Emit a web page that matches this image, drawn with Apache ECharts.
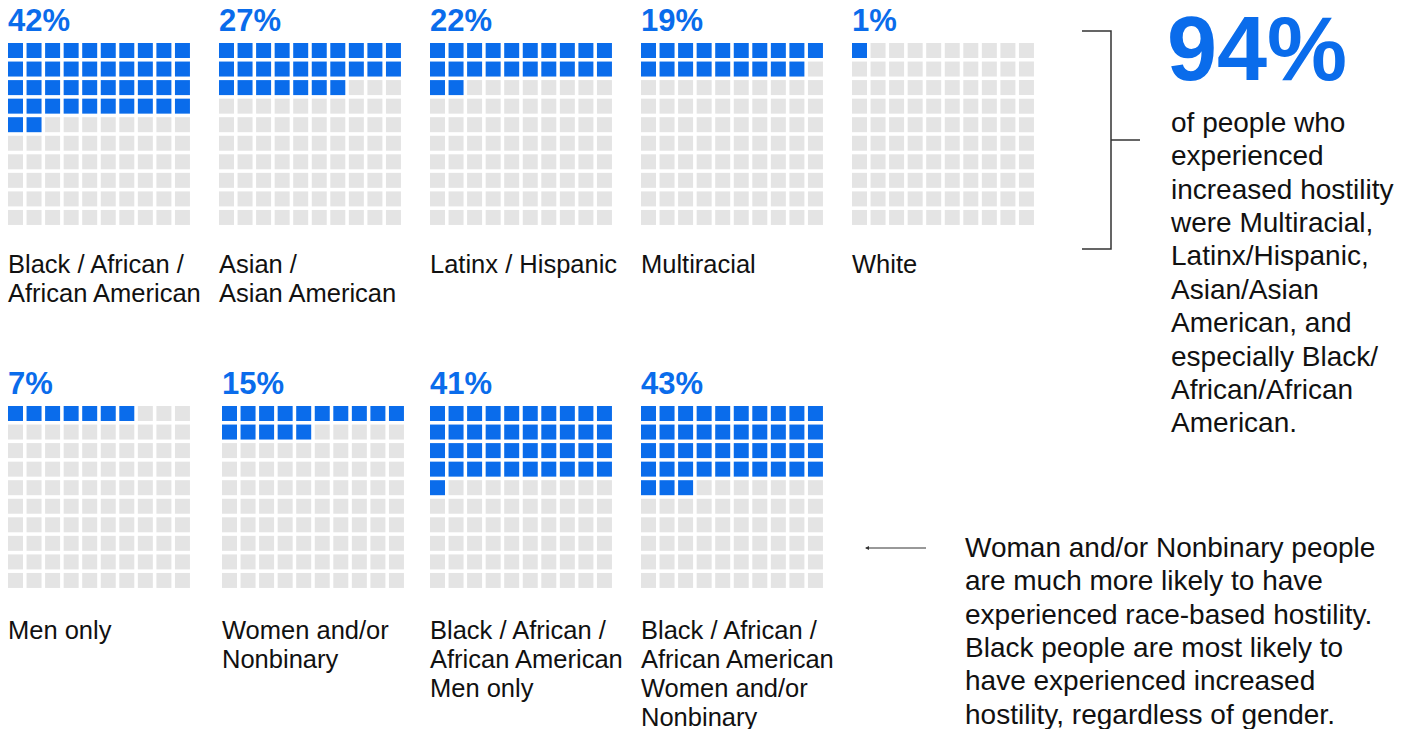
<!DOCTYPE html>
<html>
<head>
<meta charset="utf-8">
<script src="https://cdn.jsdelivr.net/npm/echarts@6/dist/echarts.min.js"></script>
<style>
  html, body { margin: 0; padding: 0; background: #ffffff; }
  #chart { width: 1414px; height: 729px; }
</style>
</head>
<body>
<div id="chart"></div>
<script>
// ---------------- DATA ----------------
const raceCategories = [
  "Black / African /\nAfrican American",
  "Asian /\nAsian American",
  "Latinx / Hispanic",
  "Multiracial",
  "White"
];
const raceValues = [42, 27, 22, 19, 1];

const genderCategories = [
  "Men only",
  "Women and/or\nNonbinary",
  "Black / African /\nAfrican American\nMen only",
  "Black / African /\nAfrican American\nWomen and/or\nNonbinary"
];
const genderValues = [7, 15, 41, 43];

const headlineValue = "94%";
const headlineText = [
  "of people who",
  "experienced",
  "increased hostility",
  "were Multiracial,",
  "Latinx/Hispanic,",
  "Asian/Asian",
  "American, and",
  "especially Black/",
  "African/African",
  "American."
];
const noteText = [
  "Woman and/or Nonbinary people",
  "are much more likely to have",
  "experienced race-based hostility.",
  "Black people are most likely to",
  "have experienced increased",
  "hostility, regardless of gender."
];

// ---------------- LAYOUT / STYLE ----------------
const BLUE = "#0A6CEB";
const GRAY = "#E4E4E4";
const TEXT = "#111111";
const FONT = "'Liberation Sans', Arial, Helvetica, sans-serif";
const PITCH = 18.55;
const CELL = 15;
const GRID_SIZE = PITCH * 10;

const panels = [];
const row1Lefts = [8, 219, 430, 641, 852];
const row2Lefts = [8, 222, 430, 641];
raceCategories.forEach((c, i) => panels.push({ name: c, value: raceValues[i], left: row1Lefts[i], top: 43, labelY: 264 }));
genderCategories.forEach((c, i) => panels.push({ name: c, value: genderValues[i], left: row2Lefts[i], top: 406, labelY: 630 }));

function waffleCells(v) {
  const out = [];
  for (let k = 0; k < 100; k++) {
    out.push([k % 10, Math.floor(k / 10), k < v ? 1 : 0]);
  }
  return out;
}

const grids = [], xAxes = [], yAxes = [], series = [], graphics = [];
panels.forEach((p, i) => {
  grids.push({ left: p.left, top: p.top, width: GRID_SIZE, height: GRID_SIZE });
  xAxes.push({ gridIndex: i, type: 'value', min: 0, max: 10, show: false });
  yAxes.push({ gridIndex: i, type: 'value', min: 0, max: 10, inverse: true, show: false });
  series.push({
    type: 'custom',
    xAxisIndex: i,
    yAxisIndex: i,
    silent: true,
    data: waffleCells(p.value),
    renderItem: function (params, api) {
      const c = api.coord([api.value(0), api.value(1)]);
      const s = api.size([1, 1]);
      return {
        type: 'rect',
        shape: { x: c[0], y: c[1], width: s[0] * CELL / PITCH, height: s[1] * CELL / PITCH },
        style: { fill: api.value(2) ? BLUE : GRAY }
      };
    }
  });
  graphics.push({
    type: 'text', x: p.left, y: p.top - 22.4,
    style: { text: p.value + '%', fill: BLUE, font: "bold 31px " + FONT, verticalAlign: 'middle', align: 'left' }
  });
  graphics.push({
    type: 'text', x: p.left, y: p.labelY - 14.5,
    style: { text: p.name, fill: TEXT, font: "25.5px " + FONT, lineHeight: 29, verticalAlign: 'top', align: 'left' }
  });
});

// Bracket
graphics.push({
  type: 'polyline',
  shape: { points: [[1082, 31], [1111, 31], [1111, 249], [1082, 249]] },
  style: { stroke: '#333333', lineWidth: 1.5, fill: null }
});
graphics.push({
  type: 'line',
  shape: { x1: 1111, y1: 140, x2: 1140, y2: 140 },
  style: { stroke: '#333333', lineWidth: 1.5 }
});
// Headline
graphics.push({
  type: 'text', x: 1167, y: 49,
  style: { text: headlineValue, fill: BLUE, font: "bold 90px " + FONT, verticalAlign: 'middle', align: 'left' }
});
graphics.push({
  type: 'text', x: 1171, y: 122.4 - 16.7,
  style: { text: headlineText.join('\n'), fill: TEXT, font: "28px " + FONT, lineHeight: 33.4, verticalAlign: 'top', align: 'left' }
});
// Arrow
graphics.push({
  type: 'line',
  shape: { x1: 866, y1: 548, x2: 926, y2: 548 },
  style: { stroke: '#333333', lineWidth: 1 }
});
graphics.push({
  type: 'polygon',
  shape: { points: [[865, 548], [869, 546], [869, 550]] },
  style: { fill: '#333333' }
});
graphics.push({
  type: 'text', x: 965, y: 547.4 - 16.7,
  style: { text: noteText.join('\n'), fill: TEXT, font: "28px " + FONT, lineHeight: 33.4, verticalAlign: 'top', align: 'left' }
});

const chart = echarts.init(document.getElementById('chart'), null, { renderer: 'svg', width: 1414, height: 729 });
chart.setOption({
  backgroundColor: '#ffffff',
  animation: false,
  grid: grids,
  xAxis: xAxes,
  yAxis: yAxes,
  series: series,
  graphic: graphics
});
</script>
</body>
</html>
